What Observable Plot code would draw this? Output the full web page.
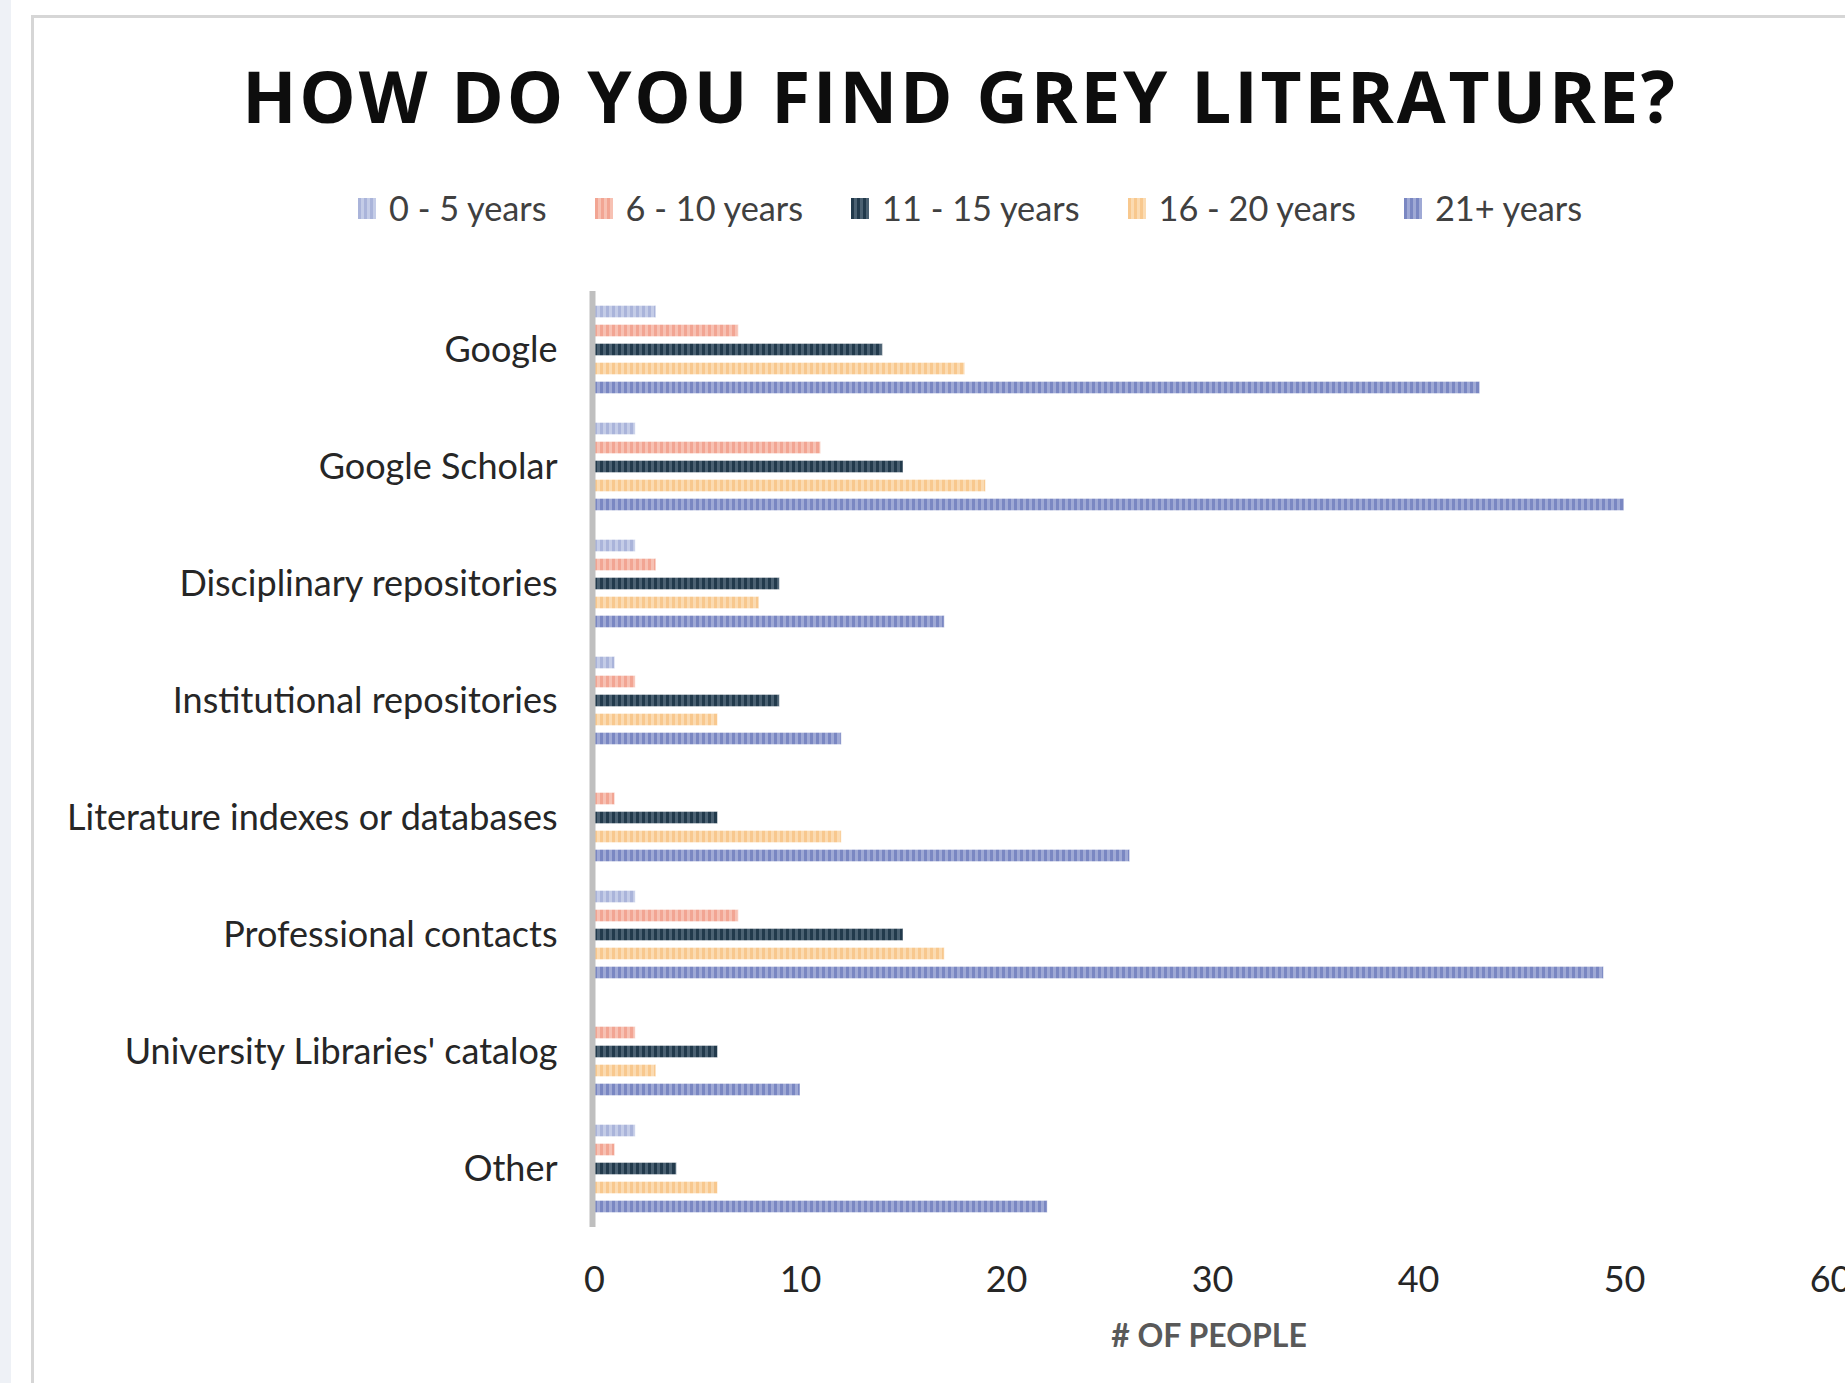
<!DOCTYPE html>
<html>
<head>
<meta charset="utf-8">
<script src="https://cdn.jsdelivr.net/npm/d3@7"></script>
<script src="https://cdn.jsdelivr.net/npm/@observablehq/plot@0.6"></script>
<style>
  html, body { margin: 0; padding: 0; background: #ffffff; }
  #wrap { position: relative; width: 1845px; height: 1383px; overflow: hidden; background: #ffffff; }
  #strip { position: absolute; left: 0; top: 0; width: 11px; height: 1383px; background: #eef1f6; }
  #frame { position: absolute; left: 31px; top: 15px; width: 1900px; height: 1500px; border-left: 3px solid #d6d6d6; border-top: 3px solid #d6d6d6; box-sizing: border-box; }
  #title { position: absolute; left: 0; top: 60px; width: 1920px; text-align: center; font-family: "Open Sans", sans-serif; font-weight: 700; font-size: 71px; line-height: 71px; letter-spacing: 2.8px; color: #0d0d0d; white-space: nowrap; }
  #legend { position: absolute; left: 358px; top: 190px; display: flex; align-items: center; font-family: Lato, sans-serif; font-size: 34.3px; line-height: 36px; color: #404040; white-space: nowrap; }
  .item { display: flex; align-items: center; margin-right: 48px; }
  .sw { width: 18px; height: 21px; margin-right: 13px; }
  #chart { position: absolute; left: 0; top: 260px; }
  #xtitle { position: absolute; left: 1209px; top: 1319px; transform: translateX(-50%); font-family: Lato, sans-serif; font-weight: 700; font-size: 32px; line-height: 32px; color: #595959; white-space: nowrap; }
</style>
</head>
<body>
<div id="wrap">
  <div id="strip"></div>
  <div id="frame"></div>
  <div id="title">HOW DO YOU FIND GREY LITERATURE?</div>
  <div id="legend"></div>
  <div id="chart"></div>
  <div id="xtitle"># OF PEOPLE</div>
</div>
<script>
// ---- data ----
const categories = ["Google", "Google Scholar", "Disciplinary repositories", "Institutional repositories", "Literature indexes or databases", "Professional contacts", "University Libraries' catalog", "Other"];
const seriesNames = ["0 - 5 years", "6 - 10 years", "11 - 15 years", "16 - 20 years", "21+ years"];
const years0to5   = [3, 2, 2, 1, 0, 2, 0, 2];
const years6to10  = [7, 11, 3, 2, 1, 7, 2, 1];
const years11to15 = [14, 15, 9, 9, 6, 15, 6, 4];
const years16to20 = [18, 19, 8, 6, 12, 17, 3, 6];
const years21plus = [43, 50, 17, 12, 26, 49, 10, 22];
const xTicks = [0, 10, 20, 30, 40, 50, 60];

// ---- styles ----
const baseColors  = ["#aab4da", "#f2a593", "#223a4c", "#f8c88e", "#7a87c2"];
const lightColors = ["#c4cce7", "#f7c1b3", "#4b6172", "#fbdbb2", "#9fa9d5"];
const patternIds = seriesNames.map((d, i) => "stripe" + i);

const seriesValues = [years0to5, years6to10, years11to15, years16to20, years21plus];
const rows = [];
categories.forEach((c, ci) => {
  seriesNames.forEach((s, si) => {
    rows.push({category: c, series: s, value: seriesValues[si][ci]});
  });
});

const svg = Plot.plot({
  width: 1845,
  height: 1123,
  marginTop: 31,
  marginBottom: 156,
  marginLeft: 594,
  marginRight: 15,
  style: {fontFamily: "Lato, sans-serif", fontSize: "36px", color: "#262626", background: "transparent", overflow: "visible"},
  x: {domain: [0, 60], ticks: xTicks, tickSize: 0, tickPadding: 39, label: null, tickFormat: d => String(d)},
  y: {domain: seriesNames, axis: null, paddingInner: 0.36, paddingOuter: 0.76, round: false},
  fy: {domain: categories, padding: 0, round: false, axis: "left", label: null, tickSize: 0, tickPadding: 37},
  color: {type: "ordinal", domain: seriesNames, range: patternIds.map(id => `url(#${id})`)},
  marks: [
    Plot.barX(rows, {x: "value", y: "series", fy: "category", fill: "series", stroke: "#ffffff", strokeOpacity: 0.5, strokeWidth: 1}),
    Plot.ruleX([0], {stroke: "#bfbfbf", strokeWidth: 6, dx: -2})
  ]
});

const defs = d3.select(svg).insert("defs", ":first-child");
patternIds.forEach((id, i) => {
  const p = defs.append("pattern").attr("id", id).attr("patternUnits", "userSpaceOnUse")
    .attr("width", 6).attr("height", 10);
  p.append("rect").attr("width", 6).attr("height", 10).attr("fill", baseColors[i]);
  p.append("rect").attr("x", 3).attr("width", 3).attr("height", 10).attr("fill", lightColors[i]);
});
document.getElementById("chart").appendChild(svg);

// legend
const legend = d3.select("#legend");
seriesNames.forEach((s, i) => {
  const it = legend.append("div").attr("class", "item");
  it.append("div").attr("class", "sw")
    .style("background", `repeating-linear-gradient(90deg, ${baseColors[i]} 0px, ${baseColors[i]} 3px, ${lightColors[i]} 3px, ${lightColors[i]} 6px)`);
  it.append("span").text(s);
});
</script>
</body>
</html>
